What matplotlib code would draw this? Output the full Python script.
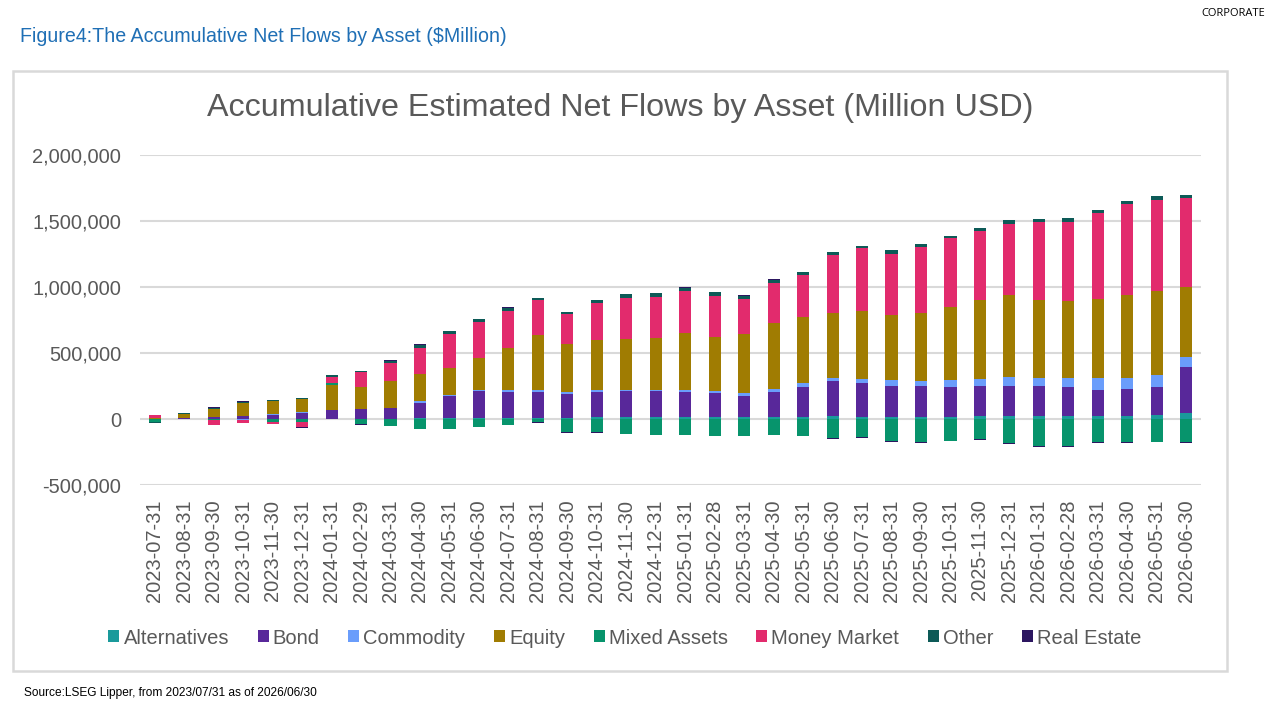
import numpy as np
import matplotlib
matplotlib.use("Agg")
from matplotlib import pyplot as plt
from matplotlib.patches import Rectangle, Patch
from matplotlib.ticker import FuncFormatter

plt.rcParams['font.family'] = ['Liberation Sans', 'DejaVu Sans']

dates = ['2023-07-31', '2023-08-31', '2023-09-30', '2023-10-31', '2023-11-30', '2023-12-31',
         '2024-01-31', '2024-02-29', '2024-03-31', '2024-04-30', '2024-05-31', '2024-06-30',
         '2024-07-31', '2024-08-31', '2024-09-30', '2024-10-31', '2024-11-30', '2024-12-31',
         '2025-01-31', '2025-02-28', '2025-03-31', '2025-04-30', '2025-05-31', '2025-06-30',
         '2025-07-31', '2025-08-31', '2025-09-30', '2025-10-31', '2025-11-30', '2025-12-31',
         '2026-01-31', '2026-02-28', '2026-03-31', '2026-04-30', '2026-05-31', '2026-06-30']

# accumulated net flows, million USD
alternatives = [0, 0, 0, 0, 0, 0, 2000, 3000, 3000, 4000, 5000, 6000,
                7000, 10000, 10000, 17000, 15000, 15000, 15000, 15000, 15000, 15000, 15000, 25000,
                15000, 15000, 15000, 15000, 25000, 25000, 25000, 25000, 25000, 25000, 33000, 43000]
bond = [3000, 5000, 15000, 25000, 33000, 48000, 63000, 76000, 81000, 121000, 167000, 207000,
        197000, 194000, 179000, 187000, 194000, 194000, 189000, 179000, 162000, 189000, 230000, 265000,
        258000, 237000, 237000, 230000, 227000, 227000, 227000, 220000, 194000, 205000, 212000, 354000]
commodity = [0, 0, 0, -8000, 8000, 5000, 0, 0, 0, 12000, 10000, 10000,
             12000, 12000, 12000, 15000, 10000, 10000, 15000, 18000, 18000, 25000, 28000, 23000,
             33000, 43000, 35000, 50000, 53000, 68000, 60000, 68000, 93000, 83000, 86000, 76000]
equity = [5000, 33000, 63000, 96000, 93000, 98000, 192000, 167000, 205000, 202000, 207000, 242000,
          323000, 419000, 366000, 379000, 389000, 396000, 432000, 412000, 447000, 497000, 497000, 492000,
          515000, 492000, 515000, 550000, 598000, 616000, 591000, 581000, 598000, 624000, 639000, 530000]
mixed_assets = [-20000, 0, -5000, 0, -25000, -22000, 15000, -38000, -55000, -73000, -73000, -63000,
                -48000, -25000, -96000, -96000, -111000, -119000, -119000, -126000, -126000, -119000, -126000, -146000,
                -134000, -164000, -172000, -164000, -154000, -182000, -202000, -202000, -172000, -177000, -172000, -177000]
money_market = [20000, 0, -40000, -22000, -15000, -40000, 43000, 108000, 134000, 200000, 252000, 268000,
                280000, 263000, 227000, 280000, 306000, 306000, 321000, 306000, 265000, 306000, 318000, 437000,
                472000, 465000, 502000, 523000, 525000, 543000, 593000, 596000, 654000, 689000, 689000, 672000]
other = [-8000, 8000, 8000, 8000, 8000, 10000, 15000, 13000, 20000, 25000, 22000, 25000,
         25000, 22000, 13000, 22000, 30000, 32000, 22000, 32000, 27000, 22000, 25000, 25000,
         16000, 25000, 18000, 22000, 22000, 30000, 22000, 30000, 22000, 27000, 30000, 25000]
real_estate = [3000, 2000, 3000, 4000, 4000, -8000, 2000, -10000, 3000, 3000, 3000, 3000,
               3000, -8000, -8000, -8000, 3000, 3000, 3000, 3000, 3000, 3000, 3000, -8000,
               -8000, -8000, -8000, -5000, -8000, -5000, -8000, -8000, -8000, -6000, -5000, -8000]

series_names = ['Alternatives', 'Bond', 'Commodity', 'Equity', 'Mixed Assets',
                'Money Market', 'Other', 'Real Estate']
series_values = [alternatives, bond, commodity, equity, mixed_assets, money_market, other, real_estate]
colors = ['#1A9A9B', '#58289A', '#6A9DFB', '#A07C02', '#07946C', '#E22B6D', '#0D5A57', '#2C1660']

fig = plt.figure(figsize=(12.8, 7.2), dpi=100)

# chart frame
fig.patches.append(Rectangle((13 / 1280, 1 - 671 / 720), 1214 / 1280, 600 / 720,
                             transform=fig.transFigure, fill=False,
                             edgecolor='#D9D9D9', linewidth=1.8))

ax = fig.add_axes([140 / 1280, 1 - 485 / 720, 1061 / 1280, 330 / 720])
x = np.arange(len(dates))
pos_base = np.zeros(len(dates))
neg_base = np.zeros(len(dates))
for name, vals, c in zip(series_names, series_values, colors):
    v = np.array(vals, dtype=float)
    bottom = np.where(v >= 0, pos_base, neg_base)
    ax.bar(x, v, width=0.41, bottom=bottom, color=c, linewidth=0, zorder=3)
    pos_base = pos_base + np.where(v >= 0, v, 0)
    neg_base = neg_base + np.where(v < 0, v, 0)

ax.set_xlim(-0.5, len(dates) - 0.5)
ax.set_ylim(-500000, 2000000)
ax.set_yticks(np.arange(-500000, 2000001, 500000))
ax.yaxis.set_major_formatter(FuncFormatter(lambda v, p: f'{v:,.0f}'))
ax.set_xticks(x)
ax.set_xticklabels(dates, rotation=90)
ax.tick_params(axis='both', length=0, labelsize=14.5, labelcolor='#595959')
ax.tick_params(axis='y', pad=13.5)
ax.tick_params(axis='x', pad=10.5)
ax.grid(axis='y', color='#D9D9D9', linewidth=1.5, zorder=0)
for s in ax.spines.values():
    s.set_visible(False)

fig.text(620 / 1280, 1 - 108 / 720, 'Accumulative Estimated Net Flows by Asset (Million USD)',
         ha='center', va='center', fontsize=23.2, color='#595959')

handles = [Patch(facecolor=c, edgecolor='none') for c in colors]
fig.legend(handles, series_names, loc='center', bbox_to_anchor=(625 / 1280, 1 - 638 / 720),
           ncol=8, frameon=False, fontsize=14.5, labelcolor='#595959',
           handlelength=0.55, handleheight=0.55, handletextpad=0.2, columnspacing=1.42)

fig.text(20 / 1280, 1 - 37 / 720, 'Figure4:The Accumulative Net Flows by Asset ($Million)',
         ha='left', va='center', fontsize=14.1, color='#1F6FB5')
fig.text(24 / 1280, 1 - 693 / 720, 'Source:LSEG Lipper, from 2023/07/31 as of 2026/06/30',
         ha='left', va='center', fontsize=8.6, color='#000000')
fig.text(1265 / 1280, 1 - 13 / 720, 'CORPORATE', ha='right', va='center',
         fontsize=8, color='#000000', family=['Open Sans', 'DejaVu Sans'])

fig.savefig('out.png', dpi=100)
